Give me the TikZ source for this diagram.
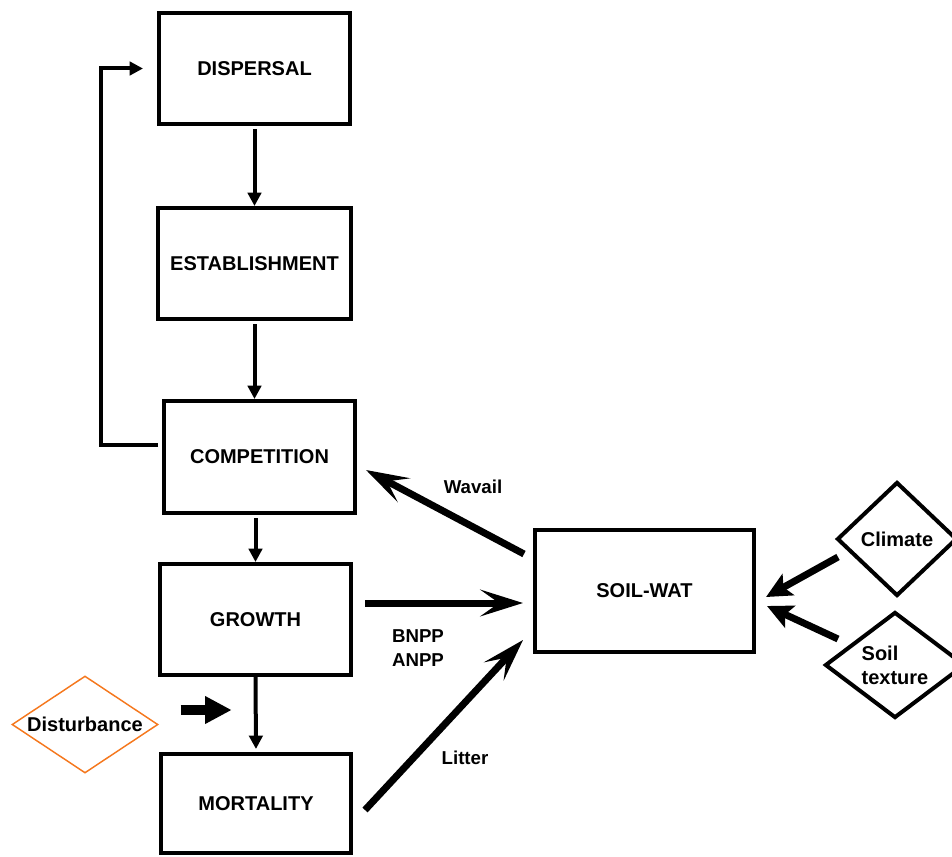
\documentclass[tikz,border=0pt]{standalone}
\usepackage{fontspec}
\setmainfont{Liberation Sans}
\usetikzlibrary{arrows.meta,shapes.geometric,calc}
\definecolor{distorange}{RGB}{245,120,30}
\tikzset{every picture/.style={line width=0.75pt}}
\tikzset{
  box/.style={draw, line width=3pt, inner sep=0pt, minimum width=143.25pt, minimum height=83.25pt, font=\fontsize{15}{18}\selectfont\bfseries},
  choice/.style={draw, shape=diamond, inner sep=0pt, font=\fontsize{15}{18}\selectfont\bfseries, align=left},
  lbl/.style={inner sep=0pt, font=\fontsize{14}{18}\selectfont\bfseries, align=center},
  flow/.style={line width=3pt, -{Triangle[length=10pt,width=10pt]}},
  bigflow/.style={line width=5.25pt, -{Stealth[length=32pt,width=20pt,inset=14pt]}},
  sideflow/.style={line width=5.25pt, -{Stealth[length=19pt,width=18pt,inset=4pt]}},
}
\begin{document}
\begin{tikzpicture}[x=0.75pt,y=0.75pt,yscale=-1,xscale=1]
        \useasboundingbox (0,0) rectangle (952,856);
        \draw (254.5,68.5) node [box] (dispersal) {DISPERSAL};
        \draw (254.5,263.5) node [box, minimum width=144.75pt] (establishment) {ESTABLISHMENT};
        \draw (259.5,457) node [box, minimum height=84pt] (competition) {COMPETITION};
        \draw (255.5,619.5) node [box] (growth) {GROWTH};
        \draw (256,803.5) node [box, minimum width=142.5pt, minimum height=74.25pt] (mortality) {MORTALITY};
        \draw (644.5,591) node [box, minimum width=164.25pt, minimum height=91.5pt] (soilwat) {SOIL-WAT};
        \draw (897,539) node [choice, line width=3pt, minimum width=90pt, minimum height=85.5pt] (climate) {Climate};
        \draw (895,665) node [choice, line width=3pt, shape aspect=1.3, minimum width=105pt, minimum height=79.5pt] (soiltexture) {Soil\\texture};
        \draw (85,724.5) node [choice, draw=distorange, line width=1.1pt, shape aspect=1.5, minimum width=109.5pt, minimum height=72.75pt] (disturbance) {Disturbance};
        \draw [flow, shorten <=2.25pt] (dispersal.south) -- (establishment.north);
        \draw [flow, shorten <=2.25pt] (establishment.south) -- (establishment.south |- competition.north);
        \draw [flow, shorten <=2.25pt] (growth.north |- competition.south) -- (growth.north);
        \draw [flow, shorten >=2.25pt] (growth.south) -- (mortality.north);
        \draw [flow] ($(competition.west)+(-4,-12)$) -| ($(dispersal.west)+(-56,0)$) -- ($(dispersal.west)+(-14,0)$);
        \draw [bigflow] ($(soilwat.west)+(-9,-37)$) -- ($(competition.east)+(9,13)$);
        \draw [bigflow] ($(growth.east)+(12,-16.5)$) -- ($(soilwat.west)+(-10,12)$);
        \draw [bigflow] ($(mortality.east)+(12,6.5)$) -- ($(soilwat.west)+(-10,49)$);
        \draw [sideflow] ($(climate.west)+(3,18)$) -- ($(soilwat.east)+(10,6)$);
        \draw [sideflow] ($(soiltexture.west)+(15,-26)$) -- ($(soilwat.east)+(11,15)$);
        \draw [line width=7.5pt, -{Triangle[length=20pt,width=19.5pt]}] ($(disturbance.east)+(22,-14.5)$) -- ++(51,0);
        \draw (473,487) node [lbl] (wavail) {Wavail};
        \draw (418,648) node [lbl] (npp) {BNPP\\ANPP};
        \draw (465,758) node [lbl] (litter) {Litter};
    \end{tikzpicture}
\end{document}
